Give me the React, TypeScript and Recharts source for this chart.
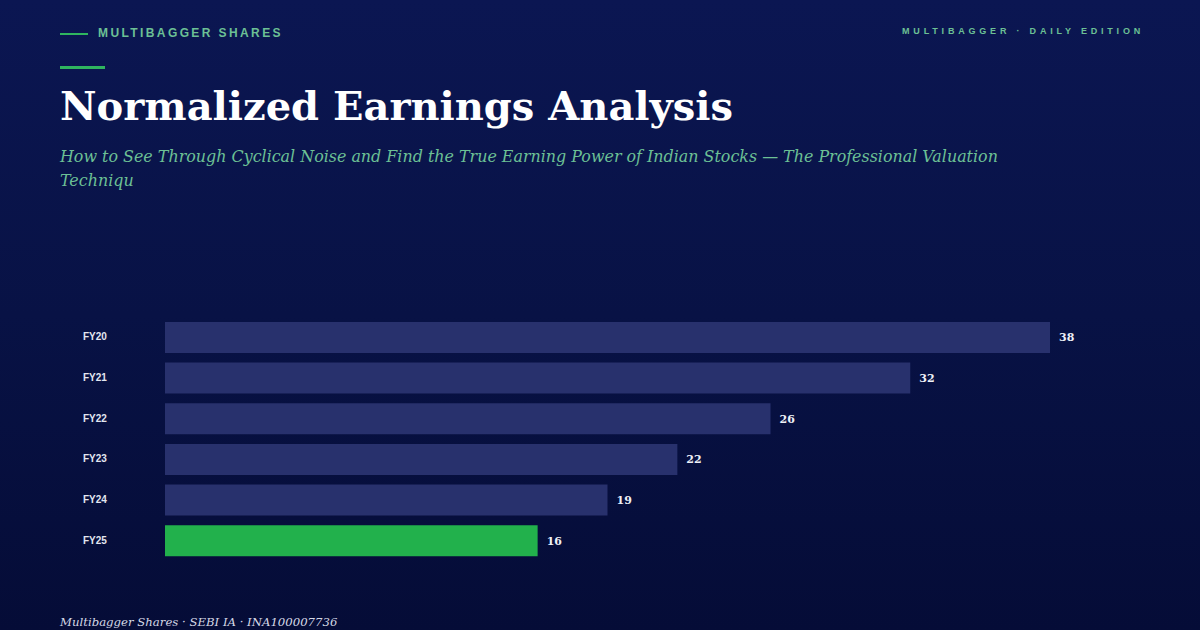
import React from "react";
import { BarChart, Bar, XAxis, YAxis, Cell, LabelList } from "recharts";

const categories = ["FY20", "FY21", "FY22", "FY23", "FY24", "FY25"];
const values = [38, 32, 26, 22, 19, 16];
const highlight = [false, false, false, false, false, true];

const data = categories.map((c, i) => ({ name: c, value: values[i], hl: highlight[i] }));

const SANS = "'Liberation Sans', Arial, sans-serif";
const SERIF = "'DejaVu Serif', Georgia, serif";

const YTick = (props: any) => {
  const { y, payload } = props;
  return (
    <text x={23} y={y} dy={3} textAnchor="start" fill="#e3e6f0" fontFamily={SANS} fontWeight={700} fontSize={10}>
      {payload.value}
    </text>
  );
};

export default function App() {
  return (
    <div
      style={{
        position: "fixed",
        left: 0,
        top: 0,
        width: 1200,
        height: 630,
        overflow: "hidden",
        background: "linear-gradient(180deg, #0b1652 0%, #081245 50%, #050c37 100%)",
      }}
    >
      <div style={{ position: "absolute", left: 60, top: 33, width: 28, height: 2, background: "#2fb55f" }} />
      <div
        style={{
          position: "absolute",
          left: 98,
          top: 26,
          fontFamily: SANS,
          fontWeight: 700,
          fontSize: 12,
          letterSpacing: 2.4,
          color: "#6cc095",
          whiteSpace: "nowrap",
          lineHeight: "14px",
        }}
      >
        MULTIBAGGER SHARES
      </div>
      <div
        style={{
          position: "absolute",
          right: 56,
          top: 26,
          fontFamily: SANS,
          fontWeight: 700,
          fontSize: 9,
          letterSpacing: 3.8,
          color: "#6cc095",
          whiteSpace: "nowrap",
          lineHeight: "11px",
        }}
      >
        MULTIBAGGER · DAILY EDITION
      </div>
      <div style={{ position: "absolute", left: 60, top: 66, width: 45, height: 3, background: "#2fb55f" }} />
      <div
        style={{
          position: "absolute",
          left: 60,
          top: 80,
          fontFamily: SERIF,
          fontWeight: 700,
          fontSize: 40,
          color: "#ffffff",
          whiteSpace: "nowrap",
          lineHeight: "52px",
        }}
      >
        Normalized Earnings Analysis
      </div>
      <div
        style={{
          position: "absolute",
          left: 60,
          top: 145,
          fontFamily: SERIF,
          fontStyle: "italic",
          fontSize: 15.9,
          color: "#6cc095",
          whiteSpace: "nowrap",
          lineHeight: "24px",
        }}
      >
        How to See Through Cyclical Noise and Find the True Earning Power of Indian Stocks — The Professional Valuation
        <br />
        Techniqu
      </div>

      <div style={{ position: "absolute", left: 60, top: 300 }}>
        <BarChart
          width={1040}
          height={280}
          data={data}
          layout="vertical"
          margin={{ top: 17, right: 50, bottom: 19, left: 0 }}
          barCategoryGap="12%"
        >
          <XAxis type="number" domain={[0, 38]} hide />
          <YAxis
            type="category"
            dataKey="name"
            width={105}
            axisLine={false}
            tickLine={false}
            tick={<YTick />}
            interval={0}
          />
          <Bar dataKey="value" isAnimationActive={false}>
            {data.map((d, i) => (
              <Cell key={i} fill={d.hl ? "#22b14c" : "#28316d"} />
            ))}
            <LabelList
              dataKey="value"
              position="right"
              offset={9}
              fill="#eef0f7"
              fontFamily={SERIF}
              fontWeight={700}
              fontSize={11}
            />
          </Bar>
        </BarChart>
      </div>

      <div
        style={{
          position: "absolute",
          left: 60,
          top: 613,
          fontFamily: SERIF,
          fontStyle: "italic",
          fontSize: 11.7,
          color: "#d5d9e6",
          whiteSpace: "nowrap",
          lineHeight: "18px",
        }}
      >
        Multibagger Shares · SEBI IA · INA100007736
      </div>
    </div>
  );
}
